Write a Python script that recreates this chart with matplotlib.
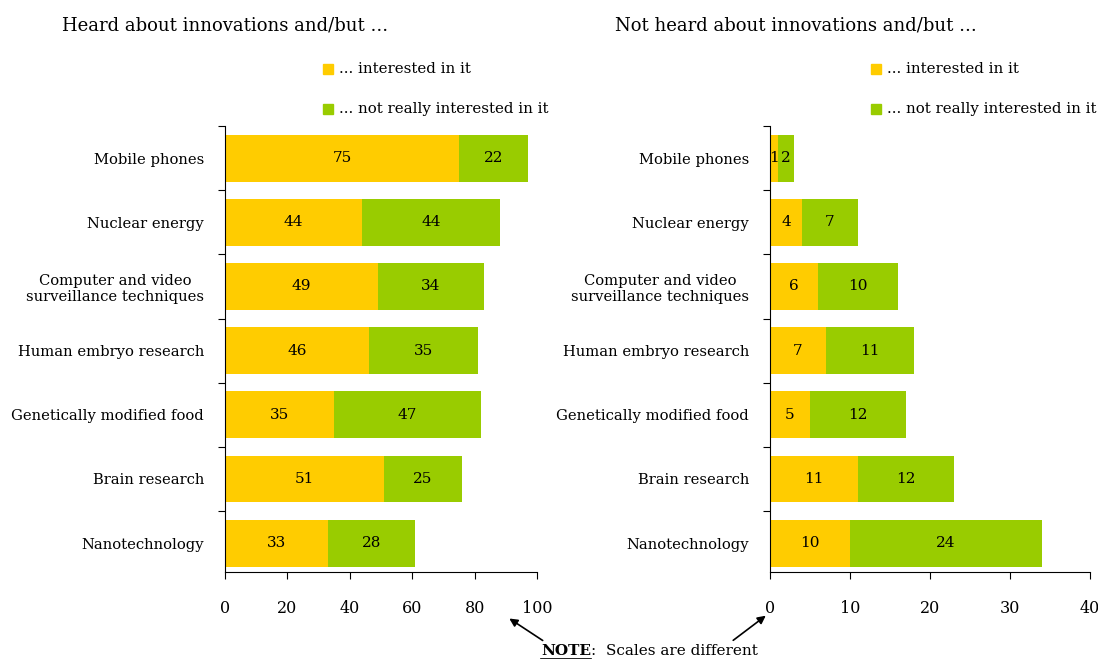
import matplotlib.pyplot as plt
import numpy as np

categories = ['Mobile phones', 'Nuclear energy', 'Computer and video\nsurveillance techniques',
              'Human embryo research', 'Genetically modified food', 'Brain research',
              'Nanotechnology']

heard_interested = [75, 44, 49, 46, 35, 51, 33]
heard_not_interested = [22, 44, 34, 35, 47, 25, 28]

not_heard_interested = [1, 4, 6, 7, 5, 11, 10]
not_heard_not_interested = [2, 7, 10, 11, 12, 12, 24]

YELLOW = '#FFCC00'
GREEN = '#99CC00'

plt.rcParams['font.family'] = ['DejaVu Serif']

W, H = 1098, 659
fig = plt.figure(figsize=(W / 100, H / 100), dpi=100)


def px_axes(x0, x1, ytop, ybot):
    return fig.add_axes([x0 / W, 1 - ybot / H, (x1 - x0) / W, (ybot - ytop) / H])


def draw_panel(ax, a, b, xmax, step, title, title_x, leg_x):
    y = np.arange(len(categories))
    ax.barh(y, a, height=0.73, color=YELLOW, edgecolor='none')
    ax.barh(y, b, left=a, height=0.73, color=GREEN, edgecolor='none')
    for i in range(len(categories)):
        ax.text(a[i] / 2, i, str(a[i]), ha='center', va='center', fontsize=11)
        ax.text(a[i] + b[i] / 2, i, str(b[i]), ha='center', va='center', fontsize=11)
    ax.set_ylim(6.45, -0.47)
    ax.set_xlim(0, xmax)
    ax.set_xticks(np.arange(0, xmax + 1, step))
    ax.tick_params(axis='x', direction='out', length=5, pad=15, labelsize=11.5)
    ax.set_yticks(np.arange(-0.5, 6.5, 1.0))
    ax.set_yticks(y, minor=True)
    ax.set_yticklabels([])
    ax.set_yticklabels(categories, minor=True)
    ax.tick_params(axis='y', which='major', direction='out', length=5)
    ax.tick_params(axis='y', which='minor', length=0, pad=15, labelsize=10.6)
    for lbl in ax.get_yticklabels(minor=True):
        lbl.set_horizontalalignment('right')
        lbl.set_multialignment('center')
    ax.spines['top'].set_visible(False)
    ax.spines['right'].set_visible(False)

    fig.text(title_x / W, 1 - 25 / H, title, fontsize=13.0, va='center', ha='left')
    labels = ['... interested in it', '... not really interested in it']
    for k, (lab, col) in enumerate(zip(labels, [YELLOW, GREEN])):
        yc = 69 + 40 * k
        fig.patches.append(plt.Rectangle((leg_x / W, 1 - (yc + 5) / H), 10 / W, 10 / H,
                                         transform=fig.transFigure, color=col))
        fig.text((leg_x + 16) / W, 1 - yc / H, lab, fontsize=10.8, va='center', ha='left')


ax1 = px_axes(225, 537, 126, 572)
draw_panel(ax1, heard_interested, heard_not_interested, 100, 20,
           'Heard about innovations and/but ...', 62, 323)

ax2 = px_axes(770, 1090, 126, 572)
draw_panel(ax2, not_heard_interested, not_heard_not_interested, 40, 10,
           'Not heard about innovations and/but ...', 615, 871)

# note with arrows
note = fig.text(541 / W, 1 - 651 / H, 'NOTE', fontsize=11, fontweight='bold',
                va='center', ha='left')
fig.canvas.draw()
bb = note.get_window_extent()
fig.text(bb.x1 / W, 1 - 651 / H, ':  Scales are different', fontsize=11,
         va='center', ha='left')
fig.add_artist(plt.Line2D([bb.x0 / W, bb.x1 / W], [(bb.y0 - 1) / H, (bb.y0 - 1) / H],
                          color='black', lw=1.2, transform=fig.transFigure))
fig.add_artist(plt.matplotlib.patches.FancyArrowPatch(
    (545 / W, 1 - 642 / H), (507 / W, 1 - 617 / H), transform=fig.transFigure,
    arrowstyle='-|>', mutation_scale=12, color='black', lw=1.2))
fig.add_artist(plt.matplotlib.patches.FancyArrowPatch(
    (731 / W, 1 - 642 / H), (768 / W, 1 - 614 / H), transform=fig.transFigure,
    arrowstyle='-|>', mutation_scale=12, color='black', lw=1.2))

fig.savefig('out.png', dpi=100)
